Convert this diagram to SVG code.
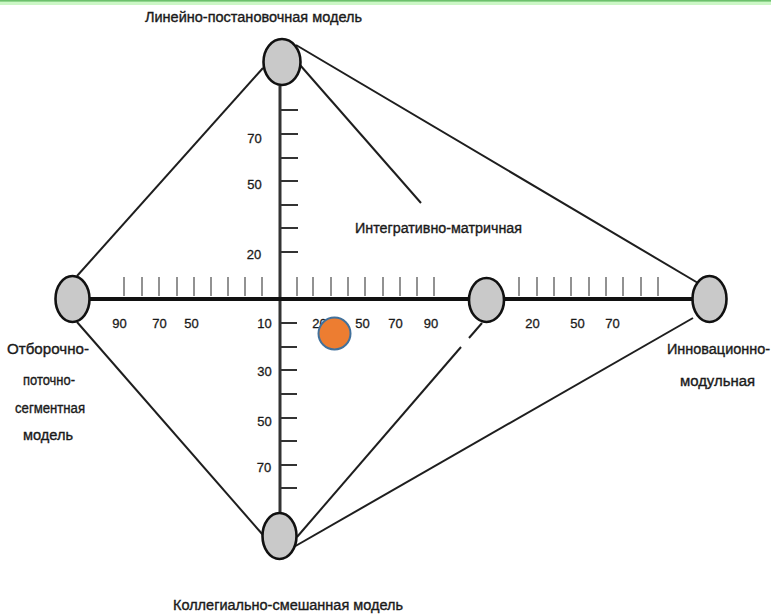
<svg xmlns="http://www.w3.org/2000/svg" width="771" height="615" viewBox="0 0 771 615">
<style>
.lbl{font-family:"Liberation Sans",Arial,sans-serif;font-size:14px;fill:#1a1a1a;stroke:#1a1a1a;stroke-width:0.35}
.num{font-family:"Liberation Sans",Arial,sans-serif;font-size:13px;fill:#1a1a1a;stroke:#1a1a1a;stroke-width:0.3;text-anchor:middle}
.ln{stroke:#1e1e1e;stroke-width:2;fill:none}
.node{fill:#c9c9c9;stroke:#111;stroke-width:2.6}
.vt{stroke:#333;stroke-width:2}
.ht{stroke:#777;stroke-width:1.6}
</style>
<rect x="0" y="0" width="771" height="615" fill="#fff"/>
<rect x="0" y="0" width="771" height="5" fill="#ccf7c6"/>
<rect x="0" y="0" width="771" height="1.6" fill="#6cc06c"/>
<g id="connectors">
<line class="ln" x1="263" y1="68" x2="77" y2="276"/>
<line class="ln" x1="296" y1="45" x2="698" y2="283"/>
<line class="ln" x1="300" y1="65" x2="421" y2="203"/>
<line class="ln" x1="77" y1="322" x2="263" y2="535"/>
<line class="ln" x1="693" y1="318" x2="292" y2="548"/>
<line class="ln" x1="482" y1="323" x2="469" y2="338"/>
<line class="ln" x1="461" y1="347" x2="297" y2="537"/>
<line x1="280" y1="86" x2="280" y2="512" stroke="#333" stroke-width="3"/>
<line x1="90" y1="299" x2="692" y2="299" stroke="#111" stroke-width="4"/>
</g>
<g id="ticks">
<g class="vt">
<line x1="280" y1="110" x2="298" y2="110"/><line x1="280" y1="134" x2="298" y2="134"/>
<line x1="280" y1="158" x2="298" y2="158"/><line x1="280" y1="181" x2="298" y2="181"/>
<line x1="280" y1="205" x2="298" y2="205"/><line x1="280" y1="228" x2="298" y2="228"/>
<line x1="280" y1="252" x2="298" y2="252"/>
<line x1="280" y1="323" x2="297" y2="323"/><line x1="280" y1="347" x2="297" y2="347"/>
<line x1="280" y1="370" x2="297" y2="370"/><line x1="280" y1="394" x2="297" y2="394"/>
<line x1="280" y1="418" x2="297" y2="418"/><line x1="280" y1="441" x2="297" y2="441"/>
<line x1="280" y1="465" x2="297" y2="465"/><line x1="280" y1="488" x2="297" y2="488"/>
</g>
<g class="ht">
<line x1="124" y1="277" x2="124" y2="296"/><line x1="142" y1="277" x2="142" y2="296"/>
<line x1="159" y1="277" x2="159" y2="296"/><line x1="177" y1="277" x2="177" y2="296"/>
<line x1="194" y1="277" x2="194" y2="296"/><line x1="211" y1="277" x2="211" y2="296"/>
<line x1="228" y1="277" x2="228" y2="296"/><line x1="245" y1="277" x2="245" y2="296"/>
<line x1="262" y1="277" x2="262" y2="296"/>
<line x1="297" y1="277" x2="297" y2="296"/><line x1="313" y1="277" x2="313" y2="296"/>
<line x1="331" y1="277" x2="331" y2="296"/><line x1="348" y1="277" x2="348" y2="296"/>
<line x1="365" y1="277" x2="365" y2="296"/><line x1="383" y1="277" x2="383" y2="296"/>
<line x1="400" y1="277" x2="400" y2="296"/><line x1="417" y1="277" x2="417" y2="296"/>
<line x1="434" y1="277" x2="434" y2="296"/>
<line x1="519" y1="277" x2="519" y2="296"/><line x1="537" y1="277" x2="537" y2="296"/>
<line x1="554" y1="277" x2="554" y2="296"/><line x1="571" y1="277" x2="571" y2="296"/>
<line x1="589" y1="277" x2="589" y2="296"/><line x1="606" y1="277" x2="606" y2="296"/>
<line x1="623" y1="277" x2="623" y2="296"/><line x1="641" y1="277" x2="641" y2="296"/>
<line x1="658" y1="277" x2="658" y2="296"/>
</g>
</g>
<g id="scale-labels">
<text class="num" x="254.5" y="143">70</text>
<text class="num" x="254.5" y="189">50</text>
<text class="num" x="254" y="259">20</text>
<text class="num" x="264.5" y="328">10</text>
<text class="num" x="264.5" y="376">30</text>
<text class="num" x="264.5" y="426">50</text>
<text class="num" x="264" y="472">70</text>
<text class="num" x="119.5" y="328">90</text>
<text class="num" x="159.5" y="328">70</text>
<text class="num" x="191.5" y="328">50</text>
<text class="num" x="319.5" y="328">20</text>
<text class="num" x="362.5" y="328">50</text>
<text class="num" x="395.5" y="328">70</text>
<text class="num" x="431" y="328">90</text>
<text class="num" x="532.5" y="328">20</text>
<text class="num" x="577.5" y="328">50</text>
<text class="num" x="612.5" y="328">70</text>
</g>
<g id="node-top">
<ellipse class="node" cx="282" cy="62" rx="18.5" ry="23"/>
<text class="lbl" x="145" y="22" textLength="217" lengthAdjust="spacingAndGlyphs">Линейно-постановочная модель</text>
</g>
<g id="node-left">
<ellipse class="node" cx="72.5" cy="299" rx="17" ry="23"/>
<text class="lbl" x="7" y="354" textLength="82" lengthAdjust="spacingAndGlyphs">Отборочно-</text>
<text class="lbl" x="23" y="385" textLength="52" lengthAdjust="spacingAndGlyphs">поточно-</text>
<text class="lbl" x="15" y="413" textLength="70" lengthAdjust="spacingAndGlyphs">сегментная</text>
<text class="lbl" x="23" y="440" textLength="50" lengthAdjust="spacingAndGlyphs">модель</text>
</g>
<g id="node-middle">
<ellipse class="node" cx="486.5" cy="300" rx="17.5" ry="22"/>
</g>
<g id="node-right">
<ellipse class="node" cx="709.5" cy="299" rx="17" ry="23"/>
<text class="lbl" x="667" y="354" textLength="103" lengthAdjust="spacingAndGlyphs">Инновационно-</text>
<text class="lbl" x="680" y="386" textLength="75" lengthAdjust="spacingAndGlyphs">модульная</text>
</g>
<g id="node-bottom">
<ellipse class="node" cx="279.5" cy="536" rx="17" ry="23"/>
<text class="lbl" x="173" y="610" textLength="230" lengthAdjust="spacingAndGlyphs">Коллегиально-смешанная модель</text>
</g>
<g id="label-integrative">
<text class="lbl" x="355" y="233" textLength="167" lengthAdjust="spacingAndGlyphs">Интегративно-матричная</text>
</g>
<g id="marker-orange">
<circle cx="334.5" cy="333.5" r="16" fill="#ed7d31" stroke="#41719c" stroke-width="2"/>
</g>
</svg>
